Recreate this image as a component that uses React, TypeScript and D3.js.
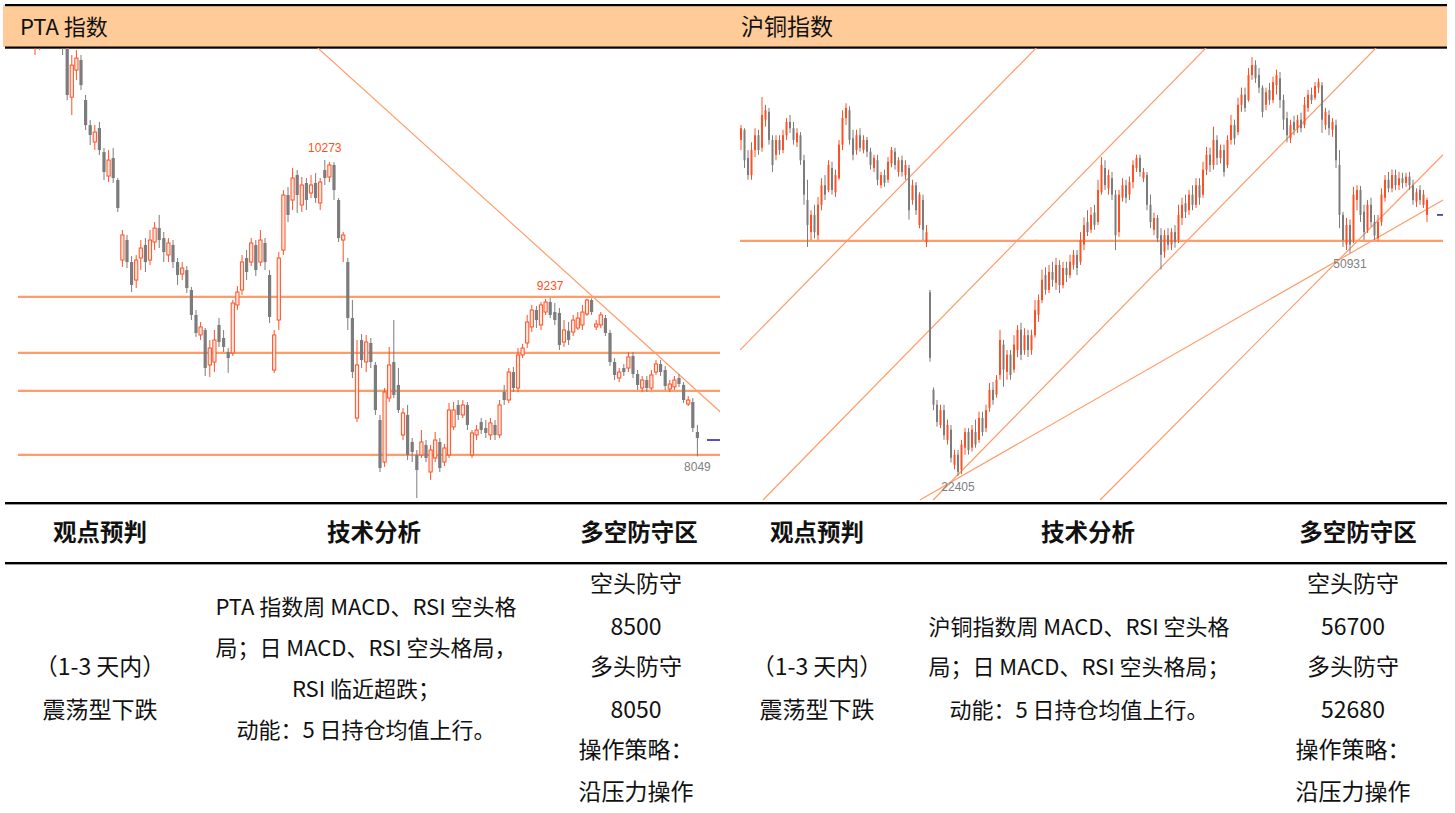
import React from "react";
import * as d3 from "d3";

// Each candle: [open, close, high, low]
type Candle = [number, number, number, number];

const ptaCandles: Candle[] = [
  [11210, 11247, 11285, 11060], [11247, 11322, 11397, 11097], [11322, 11397, 11472, 11210], [11397, 11360, 11472, 11247],
  [11360, 11435, 11510, 11285], [11435, 11322, 11472, 11247], [11322, 11135, 11397, 11060], [11135, 10760, 11172, 10722],
  [10744, 10984, 11060, 10610], [10947, 11037, 11097, 10872], [11022, 10834, 11060, 10797], [10722, 10534, 10760, 10497],
  [10534, 10460, 10572, 10385], [10407, 10482, 10535, 10347], [10512, 10347, 10557, 10310], [10332, 10182, 10362, 10122],
  [10152, 10272, 10347, 10107], [10287, 10137, 10362, 10100], [10122, 9912, 10137, 9882], [9522, 9710, 9747, 9470],
  [9672, 9507, 9710, 9462], [9507, 9335, 9552, 9282], [9372, 9522, 9560, 9312], [9537, 9612, 9672, 9447],
  [9635, 9507, 9687, 9432], [9522, 9672, 9747, 9485], [9657, 9762, 9807, 9597], [9762, 9672, 9860, 9612],
  [9687, 9582, 9732, 9507], [9560, 9650, 9687, 9507], [9635, 9507, 9672, 9462], [9507, 9410, 9537, 9335],
  [9417, 9462, 9507, 9372], [9447, 9312, 9477, 9275], [9297, 9110, 9320, 9072], [9110, 8975, 9147, 8945],
  [8960, 9020, 9057, 8922], [8997, 8712, 9012, 8652], [8735, 8862, 8922, 8645], [8757, 8922, 8997, 8682],
  [9035, 8907, 9087, 8870], [8937, 8870, 8997, 8832], [8832, 8787, 8862, 8675], [8825, 9200, 9222, 8802],
  [9185, 9282, 9327, 9147], [9297, 9507, 9560, 9260], [9537, 9432, 9597, 9372], [9507, 9650, 9687, 9477],
  [9635, 9447, 9672, 9402], [9507, 9672, 9747, 9477], [9650, 9507, 9687, 9447], [9410, 9095, 9447, 9050],
  [8697, 8960, 8997, 8675], [9072, 9537, 9582, 8997], [9597, 10010, 10047, 9560], [10010, 9860, 10070, 9807],
  [9972, 10137, 10212, 9897], [10160, 10010, 10197, 9875], [9935, 10085, 10145, 9882], [10100, 9972, 10137, 9897],
  [10025, 10085, 10160, 9987], [10100, 9987, 10175, 9950], [9950, 10107, 10137, 9897], [10197, 10137, 10273, 10085],
  [10145, 10235, 10257, 10107], [10235, 10047, 10257, 9972], [9972, 9687, 9987, 9657], [9672, 9710, 9732, 9507],
  [9507, 9087, 9537, 8997], [9087, 8682, 9222, 8637], [8337, 8735, 8922, 8307], [8922, 8772, 8967, 8712],
  [8757, 8907, 8960, 8682], [8900, 8757, 8937, 8712], [8735, 8397, 8757, 8360], [8322, 7962, 8360, 7932],
  [8007, 8532, 8562, 7970], [8487, 8735, 8870, 8457], [8757, 8510, 9072, 8487], [8585, 8397, 8712, 8375],
  [8210, 8375, 8412, 8172], [8360, 8060, 8435, 8022], [8157, 8082, 8187, 8007], [8060, 7947, 8097, 7737],
  [8060, 8157, 8247, 8037], [8135, 8037, 8172, 8007], [7932, 8097, 8135, 7872], [8037, 8172, 8232, 8007],
  [8157, 7962, 8187, 7932], [8007, 8112, 8142, 7977], [8060, 8397, 8450, 8037], [8270, 8397, 8457, 8247],
  [8435, 8360, 8472, 8322], [8360, 8435, 8472, 8337], [8435, 8285, 8457, 8247], [8060, 8225, 8247, 8037],
  [8210, 8247, 8285, 8172], [8307, 8247, 8337, 8217], [8262, 8225, 8322, 8187], [8210, 8300, 8337, 8172],
  [8285, 8210, 8322, 8172], [8210, 8435, 8472, 8187], [8532, 8472, 8585, 8435], [8472, 8682, 8712, 8450],
  [8682, 8562, 8720, 8532], [8562, 8810, 8862, 8532], [8810, 8862, 8892, 8787], [8900, 9057, 9110, 8862],
  [9020, 9147, 9185, 8982], [9147, 9072, 9177, 9012], [9035, 9185, 9207, 8997], [9132, 9207, 9230, 9110],
  [9207, 9110, 9237, 9087], [9132, 9072, 9200, 9035], [9125, 8885, 9162, 8847], [8907, 8997, 9072, 8870],
  [8992, 8922, 9057, 8885], [8982, 9072, 9110, 8952], [9012, 9087, 9132, 8997], [9035, 9132, 9185, 8997],
  [9117, 9222, 9232, 9102], [9222, 9132, 9234, 9110], [9020, 9042, 9072, 8997], [9035, 9110, 9132, 9012],
  [9087, 8975, 9110, 8952], [8975, 8757, 8997, 8727], [8757, 8660, 8787, 8622], [8637, 8682, 8712, 8607],
  [8712, 8682, 8742, 8652], [8712, 8795, 8832, 8682], [8802, 8667, 8832, 8637], [8667, 8585, 8697, 8547],
  [8562, 8622, 8652, 8532], [8622, 8562, 8652, 8532], [8562, 8660, 8697, 8547], [8682, 8742, 8772, 8660],
  [8742, 8682, 8772, 8652], [8697, 8577, 8727, 8547], [8555, 8592, 8622, 8532], [8570, 8622, 8652, 8547],
  [8637, 8592, 8667, 8570], [8585, 8472, 8607, 8450], [8442, 8472, 8502, 8427], [8457, 8262, 8487, 8232],
  [8232, 8187, 8285, 8049],
];
const ptaLevels = [9245, 8825, 8540, 8060];
const ptaTrendLines = [[{ i: 61.5, p: 11112 }, { i: 149, p: 8382 }]];
const ptaLabels = [
  { i: 63, p: 10273, text: "10273", side: "high" },
  { i: 112, p: 9237, text: "9237", side: "high" },
  { i: 144, p: 8049, text: "8049", side: "low" },
];
const ptaLastPrice = 8172;

const cuCandles: Candle[] = [
  [65400, 66900, 67300, 64100], [66700, 62800, 66900, 61800], [63100, 60900, 64100, 60300], [60900, 64100, 65100, 60300],
  [64100, 66000, 66900, 63200], [66000, 64100, 66700, 63500], [64400, 68600, 70900, 63900], [68000, 69200, 69900, 67100],
  [69000, 65400, 69500, 64800], [65400, 62200, 66000, 61300], [63500, 65400, 66000, 62800], [65400, 64100, 66000, 63500],
  [64100, 66000, 66700, 63700], [66000, 67700, 68200, 65400], [67700, 66900, 68600, 66300], [66900, 65400, 67700, 64800],
  [65100, 66300, 66900, 64500], [66000, 62800, 66400, 62200], [62800, 58400, 63500, 57100], [57700, 54500, 60300, 51700],
  [53600, 55800, 56400, 52600], [55800, 53600, 57100, 52800], [53200, 57100, 58100, 52600], [57100, 59600, 60500, 56400],
  [59600, 58400, 60900, 57700], [59000, 62200, 62800, 58700], [61800, 59000, 62600, 58400], [58700, 60900, 61600, 58100],
  [60500, 64800, 65400, 60300], [64800, 68200, 69200, 64100], [68200, 69500, 70100, 67300], [69200, 65400, 69700, 64800],
  [65600, 63500, 66700, 62800], [64100, 66000, 66700, 63500], [66000, 64400, 66900, 63900], [64100, 65400, 66000, 63700],
  [65400, 63900, 65800, 63200], [63900, 62200, 64400, 61600], [61800, 63100, 63500, 61300], [62800, 60300, 63500, 59600],
  [59600, 60900, 61300, 59200], [60900, 59900, 61600, 59400], [60300, 62600, 63200, 59900], [62400, 64100, 64500, 61900],
  [63900, 62200, 64400, 61600], [61300, 62800, 63200, 60700], [62800, 61300, 63400, 60700], [60900, 62200, 62800, 60300],
  [61800, 56400, 62200, 55200], [57700, 59600, 60300, 57100], [59600, 56400, 60000, 55800], [54500, 58400, 58700, 54100],
  [57700, 53900, 58400, 52600], [52300, 53600, 54500, 51700], [45900, 37500, 46200, 37000], [33400, 31500, 33700, 30800],
  [31500, 29300, 32100, 28700], [28900, 30800, 31500, 28500], [30800, 27600, 31500, 27000], [27000, 28900, 29600, 26400],
  [28300, 24700, 28900, 24100], [23800, 25100, 25700, 23200], [25100, 22900, 25700, 22405], [23200, 26400, 27000, 22600],
  [26000, 28000, 28500, 25100], [28000, 25700, 28500, 25100], [26000, 28300, 28900, 25500], [28000, 26400, 29600, 26000],
  [27000, 29800, 30600, 26600], [29800, 28000, 30600, 27500], [28500, 30800, 31500, 28000], [31100, 33400, 34300, 30600],
  [33400, 32100, 34400, 31500], [32800, 34700, 35300, 32400], [35300, 39800, 41100, 34700], [39200, 36000, 39800, 33800],
  [35700, 37900, 38500, 34700], [37900, 35300, 38500, 34700], [36000, 39200, 40400, 35600], [38500, 41100, 41700, 37600],
  [41100, 37900, 42000, 37200], [38500, 40400, 41300, 37900], [40400, 38500, 41100, 37600], [38500, 40400, 41100, 37900],
  [40400, 43600, 44900, 40100], [43000, 44900, 45600, 42100], [44900, 47500, 48800, 44500], [48100, 46200, 49100, 45600],
  [46200, 48500, 49400, 45800], [48500, 47500, 49800, 46600], [47100, 49400, 50300, 46200], [49400, 46800, 50000, 45800],
  [46800, 49000, 49800, 46400], [49000, 48100, 49800, 47200], [48100, 49800, 50700, 47700], [49400, 50700, 51300, 48800],
  [50700, 49000, 51300, 48100], [49800, 52600, 53600, 49400], [52000, 54500, 55500, 51300], [54900, 53600, 56400, 53100],
  [53900, 55800, 56800, 53500], [56100, 54500, 57100, 53900], [54900, 59000, 60300, 54500], [58700, 62200, 63200, 58400],
  [61800, 59600, 62800, 59000], [59200, 60900, 61600, 58400], [60500, 58400, 61300, 57700], [58400, 53200, 59000, 51300],
  [53600, 58400, 59000, 53000], [58000, 59600, 60500, 57500], [59600, 58000, 60300, 57300], [58400, 60000, 60700, 57700],
  [60000, 62200, 62800, 59200], [61800, 63100, 63500, 61300], [63100, 61300, 63500, 60700], [60500, 61300, 61800, 60000],
  [60900, 57100, 61300, 56400], [57100, 54900, 58400, 54100], [53900, 55400, 56100, 53200], [55400, 52800, 55800, 52300],
  [53200, 50700, 54100, 48800], [51100, 53200, 53900, 50300], [53200, 52000, 54100, 51300], [52000, 53600, 54100, 51300],
  [53600, 52300, 54500, 51600], [52600, 55800, 57100, 52200], [55400, 57100, 58000, 54500], [57300, 56200, 58400, 55400],
  [56400, 58400, 59000, 55800], [58400, 57100, 59600, 56400], [57100, 59600, 60500, 56700], [59600, 58000, 60500, 57100],
  [58400, 61600, 62600, 58000], [61600, 63500, 64500, 60900], [63500, 62200, 64400, 61300], [62200, 65400, 67100, 61600],
  [65400, 63100, 66000, 62200], [63100, 64100, 64800, 62400], [64100, 61300, 64800, 60700], [62200, 65400, 66000, 61800],
  [65400, 67300, 68600, 64800], [67300, 65600, 68000, 64800], [66400, 69900, 70800, 66000], [69900, 71200, 72100, 69000],
  [71200, 69500, 72100, 69000], [70500, 73700, 74600, 70300], [73700, 75000, 76000, 73100], [75000, 73300, 75600, 72700],
  [73700, 72100, 74600, 71400], [72100, 69000, 72400, 68300], [69900, 71500, 72100, 69200], [71800, 70500, 72700, 69900],
  [70500, 72800, 73500, 70100], [72400, 73700, 74400, 71200], [73300, 70500, 74100, 69500], [70500, 68000, 71200, 66700],
  [68200, 66000, 69000, 65100], [65600, 67300, 68000, 65000], [67700, 66700, 68500, 66000], [66900, 68000, 68600, 66300],
  [68000, 66900, 68900, 66400], [67300, 69900, 70900, 66900], [69500, 71200, 71800, 69000], [71200, 70500, 72100, 70000],
  [70800, 72300, 72800, 70500], [72100, 72800, 73300, 71400], [72400, 68000, 72800, 66300], [67300, 69000, 69500, 66700],
  [68600, 66900, 69200, 66000], [66700, 67700, 68200, 65800], [67300, 62800, 68000, 61800], [62200, 55800, 64100, 54100],
  [55800, 52600, 56200, 51700], [52000, 54500, 55400, 51300], [54500, 52000, 55200, 50931], [52600, 58400, 59400, 52200],
  [57700, 59000, 59600, 56400], [59000, 55800, 59500, 54900], [56200, 53600, 57100, 52600], [53900, 57100, 57700, 53500],
  [57100, 54900, 58000, 54300], [54900, 53200, 55800, 52600], [52800, 54900, 55800, 52500], [54900, 58400, 59200, 54400],
  [58000, 60300, 60900, 57500], [60300, 59200, 61300, 58700], [59200, 60900, 61600, 58700], [60900, 59600, 61600, 59000],
  [59600, 60500, 61300, 59000], [60500, 59900, 61200, 59200], [59900, 60700, 61200, 59400], [60700, 59600, 61300, 59000],
  [59600, 57700, 60300, 57100], [57500, 58700, 59200, 56800], [59000, 57700, 59600, 57100], [57100, 58400, 59000, 56700],
  [55800, 57700, 58000, 54900],
];
const cuLevels = [52470];
const cuTrendLines = [
  [{ i: -0.3, p: 38500 }, { i: 84.6, p: 77300 }],
  [{ i: 6.3, p: 19300 }, { i: 133.1, p: 77300 }],
  [{ i: 54.9, p: 19300 }, { i: 181.7, p: 77300 }],
  [{ i: 102.6, p: 19300 }, { i: 200.6, p: 63500 }],
  [{ i: 51.1, p: 19300 }, { i: 200.6, p: 57700 }],
];
const cuLabels = [
  { i: 62, p: 22405, text: "22405", side: "low" },
  { i: 174, p: 50931, text: "50931", side: "low" },
];
const cuLastPrice = 55800;

const panelTitles = ["PTA 指数", "沪铜指数"];
const tableHeads = ["观点预判", "技术分析", "多空防守区"];
const ptaView = ["（1-3 天内）", "震荡型下跌"];
const ptaTech = ["PTA 指数周 MACD、RSI 空头格", "局；日 MACD、RSI 空头格局，", "RSI 临近超跌；", "动能：5 日持仓均值上行。"];
const ptaDefense = ["空头防守", "8500", "多头防守", "8050", "操作策略：", "沿压力操作"];
const cuView = ["（1-3 天内）", "震荡型下跌"];
const cuTech = ["沪铜指数周 MACD、RSI 空头格", "局；日 MACD、RSI 空头格局；", "动能：5 日持仓均值上行。"];
const cuDefense = ["空头防守", "56700", "多头防守", "52680", "操作策略：", "沿压力操作"];

const RED = "#FF5025";
const GRAY = "#7C7C7C";
const LINE = "#FF9C6A";
const LABEL_FONT = "'Liberation Sans', 'Noto Sans', sans-serif";
const CJK = "'Noto Sans CJK SC', 'Noto Sans', sans-serif";

type PanelCfg = {
  id: string;
  candles: Candle[];
  xRange: [number, number];
  yDomain: [number, number];
  clip: [number, number, number, number];
  levelsX: [number, number];
  levels: number[];
  trends: { i: number; p: number }[][];
  labels: { i: number; p: number; text: string; side: string }[];
  last: number;
  lastX: [number, number];
  bodyW: number;
  hollow: boolean;
};

function Panel({ cfg }: { cfg: PanelCfg }) {
  const x = d3.scaleLinear().domain([0, cfg.candles.length - 1]).range(cfg.xRange);
  const y = d3.scaleLinear().domain(cfg.yDomain).range([500, 47]);
  const [cx, cy, cw, ch] = cfg.clip;
  const line = d3
    .line<{ i: number; p: number }>()
    .x((d) => x(d.i))
    .y((d) => y(d.p));
  return (
    <g>
      <defs>
        <clipPath id={cfg.id}>
          <rect x={cx} y={cy} width={cw} height={ch} />
        </clipPath>
      </defs>
      <g clipPath={`url(#${cfg.id})`}>
        {cfg.levels.map((lv, k) => (
          <line key={"l" + k} x1={cfg.levelsX[0]} x2={cfg.levelsX[1]} y1={y(lv)} y2={y(lv)} stroke={LINE} strokeWidth={2.2} />
        ))}
        {cfg.trends.map((t, k) => (
          <path key={"t" + k} d={line(t) || ""} stroke={LINE} strokeWidth={1.2} fill="none" />
        ))}
        {cfg.candles.map((c, k) => {
          const [o, cl, h, l] = c;
          const up = cl >= o;
          const col = up ? RED : GRAY;
          const xx = x(k);
          const top = y(Math.max(o, cl));
          const bot = y(Math.min(o, cl));
          const bh = Math.max(1, bot - top);
          return (
            <g key={k}>
              <line x1={xx} x2={xx} y1={y(h)} y2={y(l)} stroke={col} strokeWidth={1} />
              {up && cfg.hollow ? (
                <rect x={xx - cfg.bodyW / 2} y={top} width={cfg.bodyW} height={bh} fill="#FFE6DC" stroke={col} strokeWidth={1} />
              ) : (
                <rect x={xx - cfg.bodyW / 2} y={top} width={cfg.bodyW} height={bh} fill={col} />
              )}
            </g>
          );
        })}
      </g>
      {cfg.labels.map((lb, k) => (
        <text
          key={"lb" + k}
          x={x(lb.i)}
          y={lb.side === "high" ? y(lb.p) - 8 : y(lb.p) + 15}
          textAnchor="middle"
          fontFamily={LABEL_FONT}
          fontSize={12}
          fill={lb.side === "high" ? RED : "#808080"}
        >
          {lb.text}
        </text>
      ))}
      <line x1={cfg.lastX[0]} x2={cfg.lastX[1]} y1={y(cfg.last)} y2={y(cfg.last)} stroke="#2B2BA0" strokeWidth={1.6} />
    </g>
  );
}

const ptaCfg: PanelCfg = {
  id: "clipPta",
  candles: ptaCandles,
  xRange: [35, 697.4],
  yDomain: [7722, 11120],
  clip: [18, 48, 702, 453],
  levelsX: [18, 720],
  levels: ptaLevels,
  trends: ptaTrendLines,
  labels: ptaLabels,
  last: ptaLastPrice,
  lastX: [707, 720],
  bodyW: 3.2,
  hollow: true,
};

const cuCfg: PanelCfg = {
  id: "clipCu",
  candles: cuCandles,
  xRange: [741, 1427],
  yDomain: [19300, 77300],
  clip: [740, 48, 703, 453],
  levelsX: [740, 1443],
  levels: cuLevels,
  trends: cuTrendLines,
  labels: cuLabels,
  last: cuLastPrice,
  lastX: [1437, 1443],
  bodyW: 2,
  hollow: false,
};

function Lines({ lines, cx, ys, size = 23, bold = false }: { lines: string[]; cx: number; ys: number[]; size?: number; bold?: boolean }) {
  return (
    <g>
      {lines.map((t, k) => (
        <text key={k} x={cx} y={ys[k]} textAnchor="middle" fontFamily={CJK} fontSize={size} fontWeight={bold ? 700 : 400} fill="#111">
          {t}
        </text>
      ))}
    </g>
  );
}

export default function App() {
  const defY = [592, 635, 675, 718, 758, 800];
  return (
    <svg width={1455} height={813} style={{ position: "absolute", left: 0, top: 0, background: "#fff" }}>
      <rect x={0} y={0} width={1455} height={813} fill="#fff" />
      {/* header band */}
      <rect x={3} y={5} width={1444} height={42} fill="#FFCC99" />
      <rect x={5} y={4} width={1442} height={2.2} fill="#000" />
      <rect x={5} y={46.5} width={1442} height={2.2} fill="#000" />
      <text x={20} y={35} fontFamily={CJK} fontSize={22} fill="#111">{panelTitles[0]}</text>
      <text x={741} y={35} fontFamily={CJK} fontSize={23} fill="#111">{panelTitles[1]}</text>

      <Panel cfg={ptaCfg} />
      <Panel cfg={cuCfg} />

      <rect x={5} y={502} width={1442} height={2.4} fill="#000" />
      <rect x={5} y={562} width={1442} height={2.4} fill="#000" />

      {/* table headers */}
      {[100, 374, 639].map((cx, k) => (
        <text key={"hl" + k} x={cx} y={541} textAnchor="middle" fontFamily={CJK} fontSize={23.5} fontWeight={700} fill="#111">{tableHeads[k]}</text>
      ))}
      {[817, 1088, 1358].map((cx, k) => (
        <text key={"hr" + k} x={cx} y={541} textAnchor="middle" fontFamily={CJK} fontSize={23.5} fontWeight={700} fill="#111">{tableHeads[k]}</text>
      ))}

      {/* PTA table body */}
      <Lines lines={ptaView} cx={100} ys={[675, 718]} />
      <Lines lines={ptaTech} cx={366} ys={[615, 656, 697, 738]} size={22} />
      <Lines lines={ptaDefense} cx={636} ys={defY} />

      {/* copper table body */}
      <Lines lines={cuView} cx={817} ys={[675, 718]} />
      <Lines lines={cuTech} cx={1079} ys={[635, 675, 718]} size={22} />
      <Lines lines={cuDefense} cx={1353} ys={defY} />
    </svg>
  );
}
